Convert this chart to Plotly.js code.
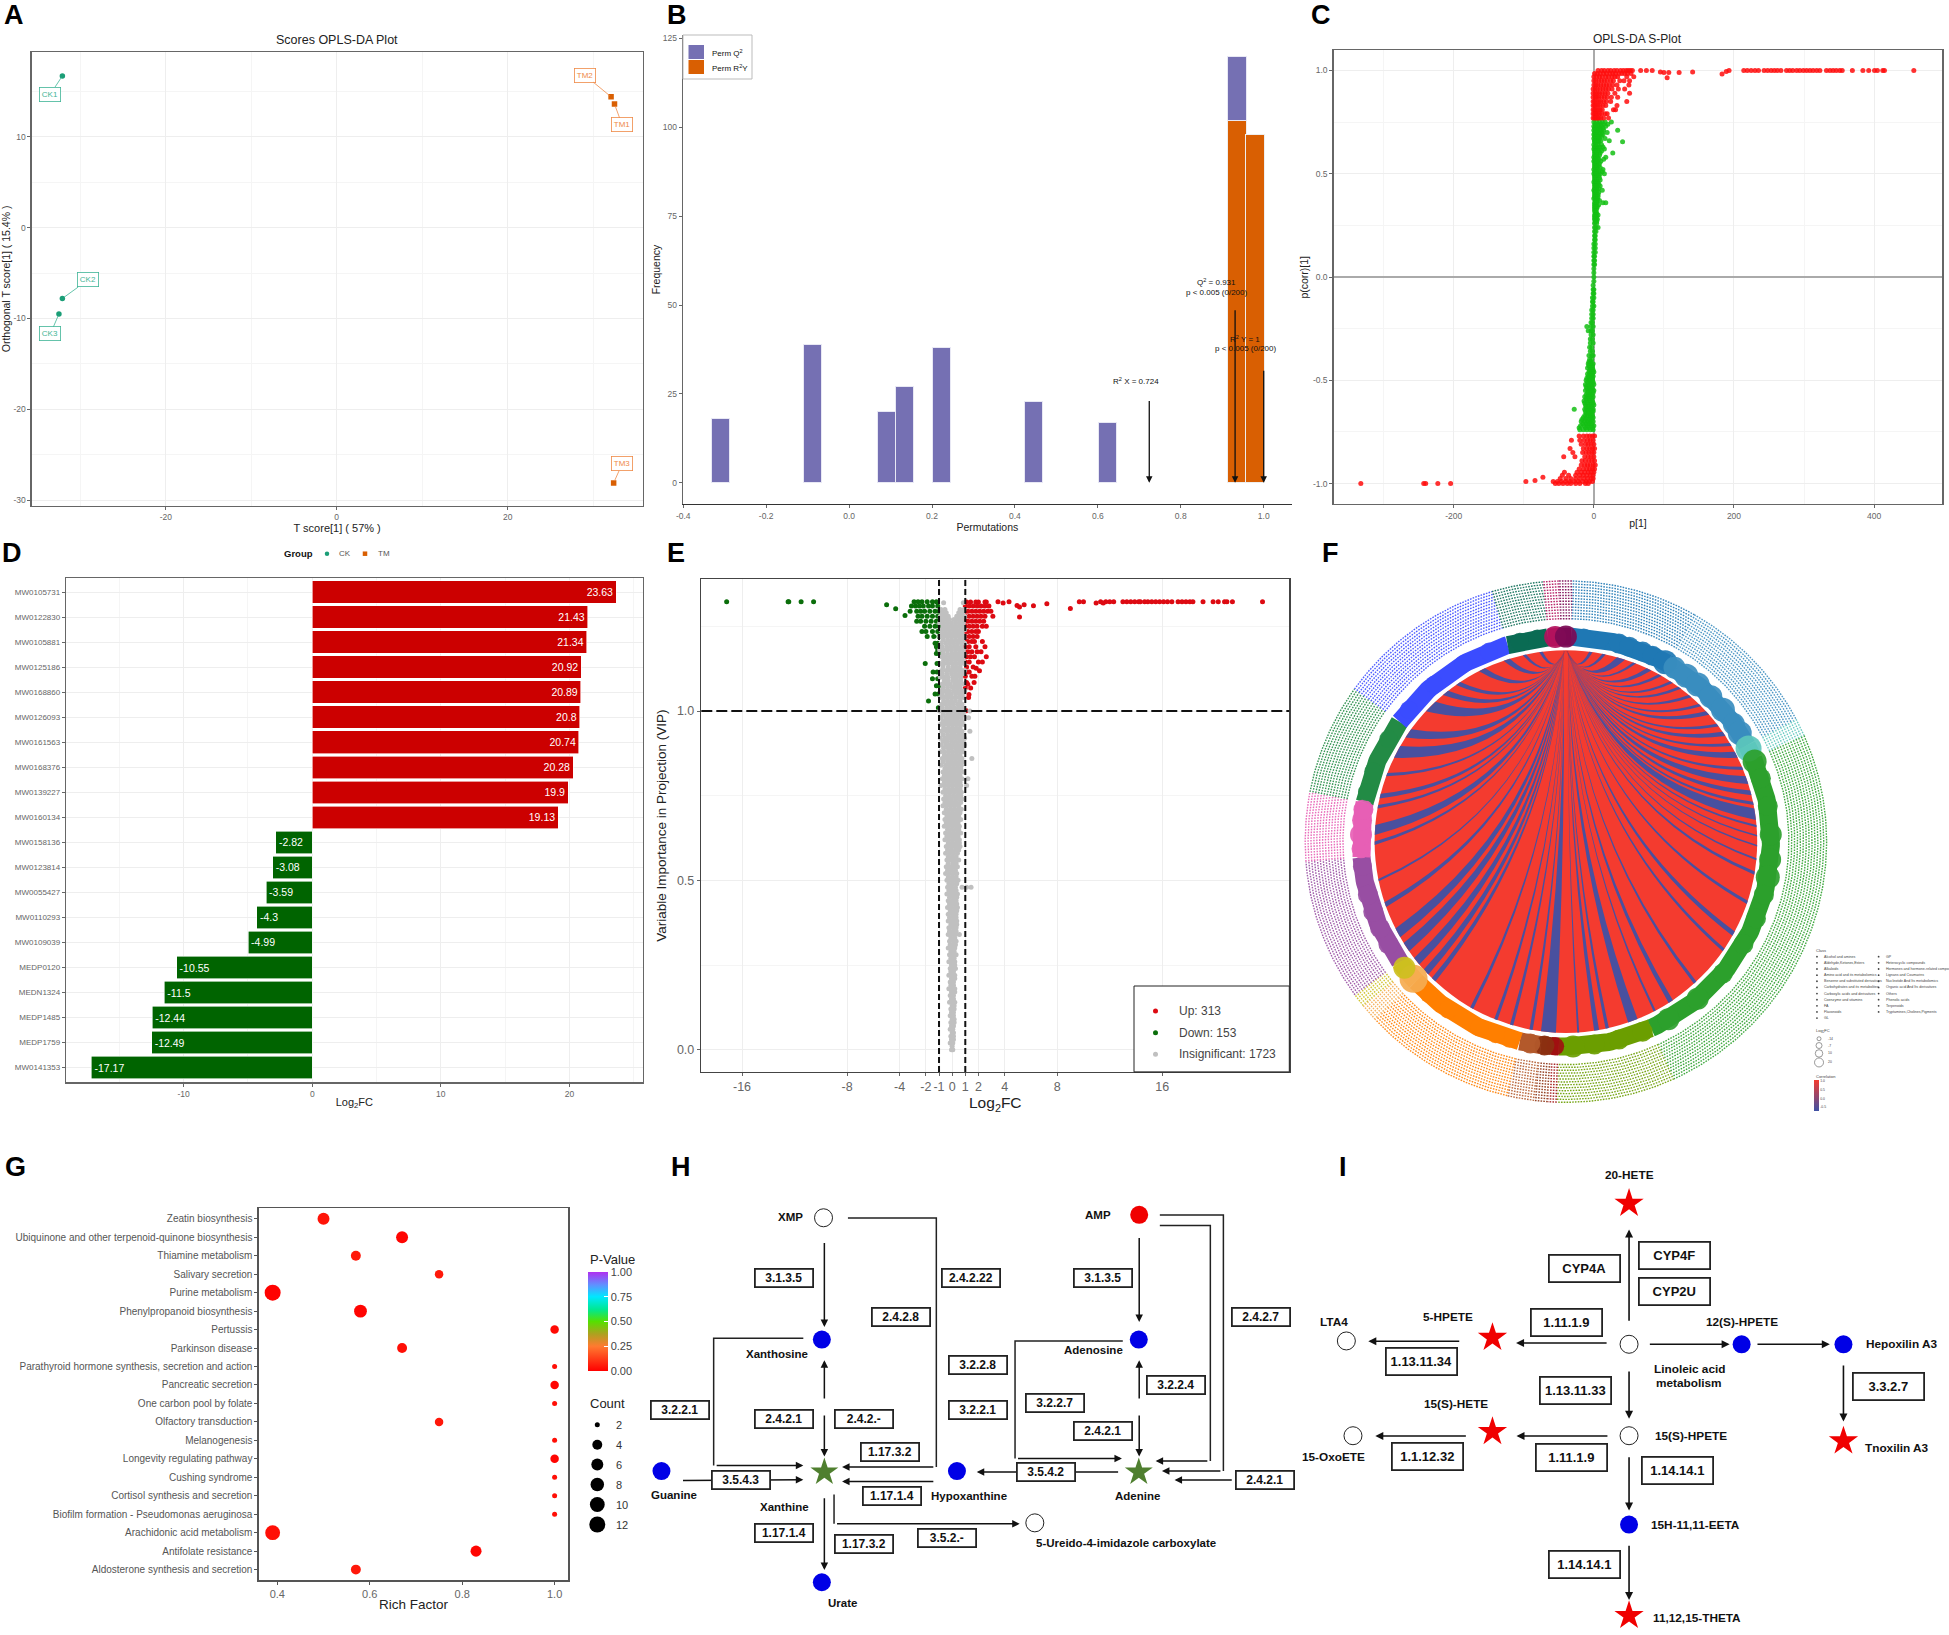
<!DOCTYPE html>
<html><head><meta charset="utf-8">
<script src="https://cdn.plot.ly/plotly-3.0.1.min.js"></script>
<style>html,body{margin:0;padding:0;background:#fff}</style></head><body><div id="chart" style="width:1949px;height:1635px"></div>
<script>
const W=1949,H=1635,FF='"Liberation Sans",Arial,sans-serif';
/* ---------- DATA ---------- */
// A
const aSamples=['CK1','CK2','CK3','TM1','TM2','TM3'];
const aT=[-32.1,-32.1,-32.5,32.5,32.1,32.4];
const aO=[16.7,-7.8,-9.5,13.6,14.4,-28.1];
const aLabelT=[-33.5,-29.1,-33.5,33.4,29,33.4];
const aLabelO=[14.7,-5.76,-11.7,11.3,16.8,-26];
// B
const bQ2x=[-0.31,-0.088,0.09,0.134,0.223,0.445,0.623,0.935];
const bQ2y=[18,39,20,27,38,23,17,18];
const bR2x=[0.935,0.979];
const bR2y=[102,98];
const bArrowX=[0.724,0.931,1.0];
const bArrowTop=[25.4,50.9,33.9];
// C rows: [p(corr), [p values]]
const cTop=[[1,[6,11,15,20,24,29,33,38,42,46,49,52,55]],[.985,[1,5,9,14,18,23,27,31,36,40,44,48,53]],[.97,[0,4,8,12,17,21,26,30,34,47,57]],[.95,[0,3,7,11,15,19,24,28,37,43,51]],[.93,[0,3,6,10,14,18,22,27,33,50]],[.91,[-1,2,5,9,13,17,21,26,35,44]],[.89,[-1,2,5,8,12,16,20,30,51]],[.87,[-1,2,4,7,11,15,19,25,34]],[.85,[-1,1,4,7,10,14,18,24,47]],[.83,[-1,1,3,6,9,13,17,33]],[.81,[-1,1,3,6,9,12,28,31]],[.79,[-1,1,3,5,8,11,16,19]],[.77,[-1,1,3,5,7,10,14,21]]];
const cBot=[[-.77,[-21,-15,-10,-6,-2,1]],[-.79,[-32,-20,-14,-9,-5,-1]],[-.81,[-18,-12,-8,-4,0]],[-.83,[-34,-15,-10,-6,-2,1]],[-.85,[-30,-16,-11,-7,-3,0]],[-.87,[-43,-27,-13,-8,-4,0]],[-.89,[-17,-12,-7,-3,1]],[-.91,[-18,-13,-9,-5,-1,2]],[-.93,[-21,-15,-10,-6,-2,1]],[-.945,[-42,-24,-18,-13,-8,-4,0]],[-.96,[-45,-36,-26,-20,-15,-10,-5,-1]],[-.975,[-48,-40,-33,-26,-20,-14,-9,-4,-1]],[-.99,[-58,-52,-46,-40,-34,-28,-22,-16,-11,-6,-2]],[-1,[-55,-50,-44,-38,-33,-26,-20,-12,-8]]];
const cOutX=[66.8,75,83.3,95,100,107,104.6,121.7,141,183,189,193,214,219,224.5,230,235,243,248,253,257.6,262,267,275,279.5,284,289.5,294,299,303.7,308.4,313,318,322.6,332,337,341.5,346,351,354.5,369,384,392.3,400.6,404.7,412.4,414.8,456.7,-332.6,-242.8,-240,-222.7,-204.4,-97,-84,-72.7];
const cOutY=[1,1,1,.993,.99,.99,.965,.99,.993,.983,.995,1,1,1,1,1,1,1,1,1,1,1,1,1,1,1,1,1,1,1,1,1,1,1,1,1,1,1,1,1,1,1,1,1,1,1,1,1,-1,-1,-1,-1,-1,-.99,-.985,-.97];
const cGreen=[[.75,[0,4,8,12,16,25]],[.74,[2,6,10,14,20]],[.73,[0,3,7,11,17]],[.72,[1,5,9,13]],[.71,[0,3,6,10,14,34]],[.70,[1,4,8,12,19]],[.69,[0,2,5,9,13]],[.68,[1,4,7,11]],[.67,[0,2,5,8,16]],[.66,[1,3,6,10,22]],[.655,[1,4,7,41]],[.64,[0,3,6,11]],[.63,[1,4,8,13]],[.62,[0,2,5,8,15]],[.61,[1,3,6,11]],[.60,[1,4,9,27]],[.59,[1,4,8]],[.58,[0,3,6,17]],[.57,[1,3,7,14]],[.56,[0,2,5,10]],[.55,[1,4,8]],[.54,[1,3,7]],[.53,[1,4,9]],[.52,[0,3,6,13]],[.51,[1,4,7,12]],[.50,[0,2,5,9,15]],[.49,[1,4,7]],[.48,[1,3,8]],[.47,[1,4,9]],[.46,[0,3,6]],[.45,[1,4,7]],[.44,[1,3,9]],[.43,[1,4,7]],[.42,[0,2,5,12]],[.41,[1,3,7]],[.40,[1,3,6]],[.39,[1,3,6]],[.38,[0,2,5]],[.37,[2,5,8]],[.36,[1,4,13,17]],[.35,[1,3,7]],[.34,[1,3,5]],[.33,[1,4]],[.32,[1,3]],[.31,[2,4]],[.30,[1,3,6]],[.29,[1,4]],[.28,[1,3,5]],[.27,[2,4]],[.26,[1,4]],[.24,[1,3,6]],[.22,[1,3]],[.20,[1,2]],[.18,[1,2]],[.16,[0,2]],[.14,[0,2]],[.12,[0,2]],[.10,[0,1]],[.08,[0,1]],[.06,[0,1]],[.04,[0]],[.02,[0]],[0,[0]],[-.02,[0]],[-.04,[-1]],[-.06,[-1,0]],[-.08,[-1,0]],[-.10,[-2,0]],[-.12,[-2,-1]],[-.14,[-2,0]],[-.16,[-3,-1]],[-.18,[-3,-1]],[-.20,[-3,-1]],[-.22,[-4,-2]],[-.24,[-4,-1,-10]],[-.26,[-4,-2,-8]],[-.28,[-4,-1]],[-.30,[-5,-2]],[-.32,[-5,-1]],[-.34,[-6,-3]],[-.36,[-5,-2]],[-.38,[-7,-3,-1]],[-.40,[-6,-3]],[-.41,[-7,-4]],[-.42,[-8,-4,-1]],[-.43,[-7,-2]],[-.44,[-9,-5,-2]],[-.45,[-6,-1]],[-.46,[-7,-3,0]],[-.47,[-9,-5,-2]],[-.48,[-8,-4,-1]],[-.49,[-10,-6,-2]],[-.50,[-11,-6,-2]],[-.51,[-9,-5,-1]],[-.52,[-12,-8,-4,0]],[-.53,[-11,-7,-3]],[-.54,[-10,-6,-2]],[-.55,[-12,-8,-4,0]],[-.56,[-9,-5,-1]],[-.57,[-11,-7,-3]],[-.58,[-13,-9,-5,-1]],[-.59,[-11,-7,-3]],[-.60,[-14,-10,-6,-2]],[-.61,[-13,-9,-4,-1]],[-.62,[-12,-8,-4,0]],[-.63,[-11,-7,-3]],[-.64,[-28,-13,-9,-5,-1]],[-.65,[-12,-8,-4,-1]],[-.66,[-11,-7,-3]],[-.67,[-13,-9,-5,-2]],[-.68,[-15,-10,-5,-1]],[-.69,[-17,-12,-7,-3]],[-.70,[-18,-13,-9,-5,-1]],[-.71,[-16,-11,-7,-3]],[-.72,[-19,-14,-9,-4,0]],[-.73,[-21,-12,-7,-2]],[-.74,[-20,-15,-10,-5,-1]]];
// D
const dIds=['MW0105731','MW0122830','MW0105881','MW0125186','MW0168860','MW0126093','MW0161563','MW0168376','MW0139227','MW0160134','MW0158136','MW0123814','MW0055427','MW0110293','MW0109039','MEDP0120','MEDN1324','MEDP1485','MEDP1759','MW0141353'];
const dVals=[23.63,21.43,21.34,20.92,20.89,20.8,20.74,20.28,19.9,19.13,-2.82,-3.08,-3.59,-4.3,-4.99,-10.55,-11.5,-12.44,-12.49,-17.17];
// E rows: [VIP,[Log2FC]]
const eRed=[[1.322,[1.1,1.4,1.8,2,2.5,2.6]],[1.31,[1,1.3,1.6,1.9,2.2,2.5,2.8]],[1.295,[1,1.2,1.5,1.8,2.1,2.4,2.7,2.95]],[1.28,[1,1.3,1.6,1.9,2.2,2.5,3.1]],[1.265,[1,1.2,1.5,1.8,2.1,2.4]],[1.25,[1,1.3,1.6,1.9,2.3,2.6]],[1.235,[1,1.2,1.5,1.8,2]],[1.22,[1,1.3,1.6,1.9]],[1.205,[1,1.2,1.5,1.7,2.3]],[1.19,[1,1.3,1.8,2.5]],[1.175,[1,1.2,1.5,1.9,2.2]],[1.16,[1.1,1.4,1.7,2.6]],[1.145,[1,1.3,2,2.3]],[1.13,[1.1,1.6]],[1.126,[1.83]],[1.119,[2.08]],[1.115,[1.1,1.3]],[1.103,[1.5,1.73,1]],[1.084,[1.67,1.1]],[1.079,[1.19]],[1.068,[1.41,1]],[1.049,[1.28]],[1.04,[1.25]],[1.001,[1.09]],
[1.323,[3.49,4.33,9.68,10,11.3,11.7,12,12.3,13,13.3,13.6,13.9,14.2,14.33,14.65,14.9,15.2,15.5,15.8,16.1,16.4,16.73,17.2,17.5,17.8,18.1,18.33,19.1,19.87,20.26,20.74,20.92,21.34,23.63]],[1.319,[3.88,10.96,11.5]],[1.312,[4.94]],[1.307,[5.13]],[1.314,[5.48]],[1.311,[6.19]],[1.317,[7.21]],[1.278,[5.13]],[1.303,[9]]];
const eGreen=[[1.323,[-17.17,-12.49,-12.44,-11.5,-10.55,-2.9,-2.6,-2.3,-1.9,-1.5,-1.2]],[1.314,[-4.99]],[1.302,[-4.3]],[1.282,[-3.59]],[1.31,[-3.1,-2.8,-2.5,-2.2,-1.8,-1.5,-1.1]],[1.295,[-3.2,-2.7,-2.4,-2.1,-1.7,-1.3,-1]],[1.28,[-2.6,-2.3,-1.9,-1.5,-1.1]],[1.265,[-2.7,-2.4,-2,-1.6,-1.2,-1]],[1.25,[-2.1,-1.7,-1.3,-1]],[1.235,[-2.3,-2,-1.5,-1.1]],[1.22,[-1.9,-1.4,-1]],[1.2,[-1.3,-1.1]],[1.19,[-1.2,-1]],[1.18,[-1.1,-.95]],[1.17,[-1.2,-1]],[1.14,[-2.05,-1.15]],[1.115,[-1.45,-1.15]],[1.095,[-1.5,-1.1]],[1.075,[-1.2,-1]],[1.05,[-1.3,-1.05]],[1.03,[-1.8]],[1.01,[-1.05]]];
const eGray=[[1.32,[-.65,.85]],[1.30,[-.85,-.55,.6,.9]],[1.28,[-.9,-.6,-.3,.35,.65,.95]],[1.26,[-.95,-.65,-.35,-.05,.25,.55,.85]],[1.24,[-.85,-.55,-.25,.05,.35,.65,.95]],[1.22,[-.95,-.6,-.3,0,.3,.6,.9]],[1.20,[-.85,-.5,-.2,.1,.4,.7,.95]],[1.18,[-.95,-.65,-.35,-.05,.25,.55,.85]],[1.16,[-.8,-.5,-.15,.15,.45,.75]],[1.14,[-.9,-.6,-.3,0,.3,.6,.9]],[1.12,[-.8,-.45,-.15,.15,.45,.75,.95]],[1.10,[-.9,-.6,-.3,.05,.35,.65]],[1.08,[-.75,-.45,-.15,.2,.5,.85]],[1.06,[-.85,-.55,-.25,.1,.4,.7,.95]],[1.04,[-.9,-.6,-.3,0,.3,.6,.85]],[1.02,[-.8,-.5,-.2,.1,.45,.75]],[1.00,[-.95,-.6,-.3,0,.3,.6,.9,1.35]],[.98,[-.85,-.5,-.2,.1,.4,.7,1.25]],[.96,[-.9,-.6,-.3,0,.3,.6,.85]],[.94,[-.8,-.45,-.15,.15,.45,.75,1.35]],[.92,[-.9,-.55,-.25,.05,.35,.65,.95]],[.90,[-.85,-.5,-.2,.1,.4,.7,.95]],[.88,[-.9,-.6,-.3,0,.3,.6,.85]],[.86,[-.75,-.45,-.15,.15,.45,.75,1.5]],[.84,[-.85,-.5,-.2,.1,.4,.7]],[.82,[-.7,-.4,-.1,.2,.5,.85]],[.80,[-.75,-.45,-.15,.15,.45,.75,1.2]],[.78,[-.85,-.55,-.25,.05,.35,.65,1.1]],[.76,[-.7,-.4,-.1,.2,.5,.7]],[.74,[-.65,-.35,-.05,.25,.55,.75]],[.72,[-.7,-.4,-.1,.2,.5]],[.70,[-.6,-.3,0,.3,.6]],[.68,[-.55,-.25,.05,.35,.65]],[.66,[-.6,-.3,0,.3,.55]],[.64,[-.5,-.2,.1,.4,.65]],[.62,[-.55,-.25,.05,.35,.55]],[.60,[-.45,-.15,.15,.45,.6]],[.58,[-.5,-.2,.1,.4]],[.56,[-.4,-.1,.2,.5]],[.54,[-.45,-.15,.15,.4]],[.52,[-.5,-.2,.1,.35]],[.50,[-.4,-.1,.2,.45]],[.48,[-.35,-.05,.25,.75,1.1,1.44]],[.46,[-.4,-.1,.2,.4]],[.44,[-.3,0,.3]],[.42,[-.35,-.05,.25,.4]],[.40,[-.3,0,.3]],[.38,[-.3,-.05,.2,.35]],[.36,[-.25,.05,.3]],[.34,[-.3,0,.25,.55]],[.32,[-.2,.1,.3]],[.30,[-.3,-.05,.2]],[.28,[-.2,.05,.3]],[.26,[-.25,0,.2]],[.24,[-.15,.1,.25]],[.22,[-.25,0,.2]],[.20,[-.15,.1]],[.18,[-.25,0,.2]],[.16,[-.15,.1]],[.14,[-.2,.05,.2]],[.12,[-.1,.15]],[.10,[-.15,.1]],[.08,[-.1,.15]],[.06,[-.15,.05]],[.04,[-.1,.1]],[.02,[-.15,.05]],[0,[-.05,.05]]];
const eGrayFill=[[1.29,[-.75,-.45,.5,.8]],[1.27,[-.8,-.5,-.2,.15,.45,.75]],[1.25,[-.7,-.4,-.1,.2,.5,.8]],[1.23,[-.75,-.45,-.15,.15,.45,.75]],[1.21,[-.7,-.35,-.05,.25,.55,.8]],[1.19,[-.75,-.4,-.1,.2,.4,.7]],[1.17,[-.7,-.35,0,.3,.6,.9]],[1.15,[-.65,-.35,-.05,.25,.55,.85]],[1.13,[-.7,-.3,.05,.3,.6]],[1.11,[-.75,-.4,-.05,.25,.55,.85]],[1.09,[-.6,-.3,.05,.35,.65]],[1.07,[-.7,-.35,0,.3,.6]],[1.05,[-.75,-.4,-.1,.25,.55,.8]],[1.03,[-.65,-.35,-.05,.25,.6]],[1.01,[-.75,-.4,-.1,.2,.5,.8]],[.99,[-.7,-.35,-.05,.25,.55,.85]],[.97,[-.7,-.4,-.1,.2,.45,.75]],[.95,[-.65,-.3,0,.3,.6]],[.93,[-.7,-.35,-.05,.2,.5,.8]],[.91,[-.7,-.4,-.05,.25,.55,.85]],[.89,[-.65,-.3,-.05,.25,.5,.75]],[.87,[-.6,-.3,0,.3,.6]],[.85,[-.7,-.35,-.05,.25,.55,.8]],[.83,[-.55,-.25,.05,.35,.65]],[.81,[-.6,-.3,0,.3,.6]],[.79,[-.6,-.3,0,.3,.6]],[.77,[-.55,-.25,.05,.35,.6]],[.75,[-.5,-.2,.1,.4,.65]],[.73,[-.55,-.25,.05,.35,.65]],[.71,[-.45,-.15,.15,.45,.7]],[.69,[-.4,-.1,.2,.5]],[.67,[-.45,-.15,.15,.45]],[.65,[-.35,-.05,.25,.5]],[.63,[-.4,-.1,.2,.45]],[.61,[-.3,0,.3,.55]],[.59,[-.35,-.05,.25,.5]],[.57,[-.3,0,.3]],[.55,[-.3,.05,.3]],[.53,[-.35,-.05,.25]],[.51,[-.3,0,.3]],[.49,[-.25,.05,.35]],[.47,[-.25,.05,.3]],[.45,[-.2,.1,.35]],[.43,[-.2,.1,.35]],[.41,[-.15,.15,.35]],[.39,[-.2,.1,.3]],[.37,[-.1,.15,.35]],[.35,[-.2,.1,.3]],[.33,[-.1,.2]],[.31,[-.15,.1,.25]],[.29,[-.1,.15]],[.27,[-.1,.15]],[.25,[-.05,.2]],[.23,[-.1,.1]],[.21,[-.05,.2]],[.19,[-.1,.1]],[.17,[-.05,.2]],[.15,[-.05,.1]],[.13,[0,.15]],[.11,[-.05,.1]],[.09,[0,.15]],[.07,[-.05,.1]],[.05,[0,.1]],[.03,[-.05,.1]],[.01,[0]]];
const eTicks=[-16,-8,-4,-2,-1,0,1,2,4,8,16];
const eLegend=['Up: 313','Down: 153','Insignificant: 1723'];
// F
const fClass=['Alcohol and amines','Aldehyde,Ketones,Esters','Alkaloids','Amino acid and its metabolomics','Benzene and substituted derivatives','Carbohydrates and its metabolites','Carboxylic acids and derivatives','Coenzyme and vitamins','FA','Flavonoids','GL','GP','Heterocyclic compounds','Hormones and hormone-related compounds','Lignans and Coumarins','Nucleotide And Its metabolomics','Organic acid And Its derivatives','Others','Phenolic acids','Terpenoids','Tryptamines,Cholines,Pigments'];
const fStart=[1.5,29.5,62,66,155.5,182,184,187,193,227,231,234,265.6,281,305.8,343.5,355,358.5];
const fEnd=[29.5,62,66,155.5,182,184,187,193,227,231,234,265.6,281,305.8,343.5,355,358.5,361.5];
const fColor=['#1f78b4','#3a8dbf','#5cc7bc','#2ca02c','#6b9e00','#a01010','#8b3010','#b3592b','#ff7f00','#f5ab50','#cdbf20','#984ea3','#e75fb5','#238b45','#3b4cff','#0b6b54','#b3125d','#7b0a55','#666','#666','#666'];
const fBlue=[[15.5,18],[20.5,21.5],[25,26.5],[29,30],[33,34],[36,37],[40,41],[44,45],[47,48.5],[52,53],[55,56.5],[59,60],[62,64],[67,68],[70,72.5],[74.5,76],[78,79],[80,83.5],[85,85.7],[88,88.5],[91,91.5],[95,95.6],[99,100],[108,109],[118,119.5],[124,125],[137,138],[146,147.5],[152,152.7],[158,161],[167,168],[170,171.5],[176,176.6],[183,187.5],[190,191],[196,197],[201,202],[209,210],[223,224.5],[226,228],[230,232.5],[235,238],[240,243],[250,251.5],[258,258.7],[269,270],[272,275],[280,281],[283,284.5],[290,291],[296,300],[303,306],[313,317],[320,322],[325,326.5],[333,335],[341,343],[347,348],[352,353],[7,8],[11,12]];
const fBumps=[[5,18],[10,15],[15,20],[18,20],[22,20],[25,20],[29,24],[32,22],[36,24],[40,24],[45,23],[50,24],[55,22],[58,24],[63,26],[67,24],[72,20],[80,20],[88,22],[95,22],[100,24],[105,20],[112,20],[120,20],[130,20],[140,22],[150,22],[158,20],[165,20],[172,20],[178,22],[183,18],[186,20],[190,20],[196,18],[200,18],[205,18],[215,18],[222,18],[228,28],[232,22],[240,20],[245,20],[250,20],[255,20],[263,19],[268,19],[272,22],[276,20],[279,20],[284,18],[290,18],[300,18],[310,18],[320,18],[330,18],[338,18],[347,18],[352,18],[357,22],[0,22]];
const fFcSizes=['-14','-7','10','20'];
const fCorrTicks=[1,.5,0,-.5];
// G
const gPath=['Zeatin biosynthesis','Ubiquinone and other terpenoid-quinone biosynthesis','Thiamine metabolism','Salivary secretion','Purine metabolism','Phenylpropanoid biosynthesis','Pertussis','Parkinson disease','Parathyroid hormone synthesis, secretion and action','Pancreatic secretion','One carbon pool by folate','Olfactory transduction','Melanogenesis','Longevity regulating pathway','Cushing syndrome','Cortisol synthesis and secretion','Biofilm formation - Pseudomonas aeruginosa','Arachidonic acid metabolism','Antifolate resistance','Aldosterone synthesis and secretion'];
const gRich=[.5,.67,.57,.75,.39,.58,1,.67,1,1,1,.75,1,1,1,1,1,.39,.83,.57];
const gCount=[6,6,4,3,12,7,3,4,2,3,2,3,2,3,2,2,2,10,5,4];
const gP=[.04,.01,.05,.05,.005,.01,.02,.03,.03,.01,.03,.05,.03,.01,.03,.03,.03,.03,.01,.05];
const gCountLegend=[2,4,6,8,10,12];
// H (positions in the panel's own diagram axes)
const hBlue=[[432,598],[1185,598],[51,992],[753,992],[432,1325]];
const hWhite=[[436,233],[938,1147]];
const hRed=[[1186,224]];
const hStar=[[438,995],[1185,995]];
const hLabels=[['XMP',358,232],['AMP',1089,224],['Xanthosine',326,640],['Adenosine',1077,630],['Guanine',81,1063],['Hypoxanthine',781,1067],['Adenine',1181,1066],['Xanthine',344,1101],['Urate',482,1388],['5-Ureido-4-imidazole carboxylate',1155,1206]];
const hBoxes=[['3.1.3.5',343,414],['2.4.2.22',786,414],['2.4.2.8',620,531],['3.1.3.5',1100,414],['2.4.2.7',1476,531],['3.2.2.8',803,675],['3.2.2.4',1273,733],['3.2.2.7',986,789],['3.2.2.1',95,810],['3.2.2.1',803,810],['2.4.2.1',343,837],['2.4.2.-',532,837],['2.4.2.1',1100,873],['1.17.3.2',595,935],['3.5.4.2',964,995],['3.5.4.3',240,1019],['2.4.2.1',1485,1018],['1.17.1.4',598,1068],['1.17.1.4',343,1176],['1.17.3.2',532,1209],['3.5.2.-',729,1193]];
const hEdges=[[[438,283],[438,560]],[[494,234],[704,234],[704,980],[480,980]],[[388,594],[175,594],[175,975],[388,975]],[[438,800],[438,660]],[[438,800],[438,948]],[[95,1020],[388,1018]],[[704,1023],[480,1023]],[[438,1048],[438,1288]],[[461,1062],[461,1150],[902,1150]],[[1186,268],[1186,545]],[[1235,225],[1386,225],[1386,992],[1240,992]],[[1235,256],[1355,256],[1355,962],[1225,962]],[[1147,602],[891,602],[891,954],[1145,954]],[[1186,800],[1186,660]],[[1186,800],[1186,948]],[[1143,995],[800,995]],[[1413,1019],[1270,1019]]];
// I
const iBlue=[[1067,612],[1313,612],[795,1152]];
const iWhite=[[795,612],[795,886],[112,602],[128,886]];
const iStar=[[795,190],[465,592],[465,874],[1313,902],[795,1425]];
const iLabels=[['20-HETE',795,105],['5-HPETE',358,531],['LTA4',83,545],['12(S)-HPETE',1068,545],['Hepoxilin A3',1453,612],['Linoleic acid',941,686],['metabolism',941,728],['15(S)-HETE',377,791],['15(S)-HPETE',945,886],['15-OxoETE',82,950],['Tnoxilin A3',1443,923],['15H-11,11-EETA',955,1152],['11,12,15-THETA',958,1432]];
const iBoxes=[['CYP4F',904,345],['CYP4A',687,385],['CYP2U',904,453],['1.11.1.9',645,547],['1.13.11.34',293,665],['1.13.11.33',666,749],['3.3.2.7',1422,737],['1.1.12.32',309,949],['1.11.1.9',655,951],['1.14.14.1',913,991],['1.14.14.1',687,1273]];
const iEdges=[[[795,567],[795,268]],[[748,608],[522,608]],[[392,603],[165,603]],[[838,612],[1038,612]],[[1098,612],[1280,612]],[[1313,650],[1313,843]],[[795,668],[795,835]],[[750,887],[523,887]],[[408,887],[182,887]],[[795,925],[795,1110]],[[795,1190],[795,1378]]];

/* ---------- HELPERS ---------- */
const layout={width:W,height:H,margin:{l:0,r:0,t:0,b:0},paper_bgcolor:'#fff',plot_bgcolor:'rgba(0,0,0,0)',showlegend:false,font:{family:FF},barmode:'stack',hovermode:false,shapes:[],annotations:[]};
const traces=[];
const flat=rows=>{const x=[],y=[];rows.forEach(r=>r[1].forEach(v=>{x.push(v);y.push(r[0]);}));return{x,y};};
const tickFont={size:8.5,color:'#666',family:FF};
const axBase={showline:true,mirror:true,linecolor:'#666',linewidth:1.2,ticks:'outside',ticklen:3,tickcolor:'#666',tickfont:tickFont,tickangle:0,gridcolor:'#eee',zeroline:false,layer:'below traces'};
function axes(n,L,R,T,B,xo,yo){
  layout['xaxis'+n]=Object.assign({},axBase,{domain:[L/W,R/W],anchor:'y'+n},xo);
  layout['yaxis'+n]=Object.assign({},axBase,{domain:[1-B/H,1-T/H],anchor:'x'+n},yo);
}
const ttl=(t,s,st)=>({text:t,font:{size:s||11,color:'#222',family:FF},standoff:st===undefined?2:st});
const minor=(d)=>({dtick:d,showgrid:true,gridcolor:'#f5f5f5',ticks:''});
const tv=a=>({tickmode:'array',tickvals:a,ticktext:a.map(String)});
const tvf=(a,f)=>({tickmode:'array',tickvals:a,ticktext:a.map(v=>v.toFixed(f))});
function note(xr,yr,x,y,text,size,extra){layout.annotations.push(Object.assign({xref:xr,yref:yr,x,y,text,showarrow:false,font:{size:size,family:FF,color:'#111'}},extra||{}));}
const cn=(x,y,t,s,e)=>note('x10','y10',x,y,t,s,e);
function rectC(x0,y0,x1,y1,stroke,fill,layer,lw){layout.shapes.push({type:'rect',xref:'x10',yref:'y10',x0,y0,x1,y1,line:{color:stroke,width:lw===undefined?1:lw},fillcolor:fill,layer:layer||'above'});}
function circC(x,y,d,fill){layout.shapes.push({type:'circle',xref:'x10',yref:'y10',x0:x-d/2,x1:x+d/2,y0:y-d/2,y1:y+d/2,line:{width:0},fillcolor:fill,layer:'above'});}

/* canvas axes covering the whole page, one unit per pixel */
layout.xaxis10={domain:[0,1],range:[0,W],visible:false,fixedrange:true,anchor:'y10'};
layout.yaxis10={domain:[0,1],range:[H,0],visible:false,fixedrange:true,anchor:'x10'};

/* ---------- A ---------- */
axes('',31.6,642.7,52.3,505.6,
 Object.assign({range:[-35.7,35.8],minor:minor(10),title:ttl('T score[1] ( 57% )',11,0)},tv([-20,0,20])),
 Object.assign({range:[-30.6,19.3],minor:minor(5),title:ttl('Orthogonal T score[1] ( 15.4% )',10.5,2)},tv([-30,-20,-10,0,10])));
traces.push({type:'scatter',mode:'markers',x:aT.slice(0,3),y:aO.slice(0,3),xaxis:'x',yaxis:'y',name:'CK',marker:{size:5.5,color:'#1b9e77',symbol:'circle'}});
traces.push({type:'scatter',mode:'markers',x:aT.slice(3),y:aO.slice(3),xaxis:'x',yaxis:'y',name:'TM',marker:{size:5.5,color:'#d95f02',symbol:'square'}});
aSamples.forEach((s,i)=>{const c=i<3?'#3fb596':'#ef8a47';
 layout.annotations.push({xref:'x',yref:'y',x:aT[i],y:aO[i],ax:aLabelT[i],ay:aLabelO[i],axref:'x',ayref:'y',text:s,showarrow:true,arrowhead:0,arrowwidth:.8,arrowcolor:c,standoff:2,bgcolor:'#fff',bordercolor:c,borderwidth:.8,borderpad:2,font:{size:8,color:c,family:FF}});});
cn(336.7,39.6,'Scores OPLS-DA Plot',12.5,{font:{size:12.5,color:'#222',family:FF}});

/* ---------- B ---------- */
axes(2,682.8,1291.9,34.8,504.2,
 Object.assign({range:[-.401,1.068],mirror:false,showgrid:false,linecolor:'#333',title:ttl('Permutations',10.5,0)},tvf([-.4,-.2,0,.2,.4,.6,.8,1],1)),
 Object.assign({range:[-6,126],mirror:false,showgrid:false,linecolor:'#666',title:ttl('Frequency',10.5,0)},tv([0,25,50,75,100,125])));
traces.push({type:'bar',x:bR2x,y:bR2y,width:.0446,xaxis:'x2',yaxis:'y2',name:'Perm R2Y',marker:{color:'#d95f02',line:{color:'#eee',width:1}}});
traces.push({type:'bar',x:bQ2x,y:bQ2y,width:.0446,xaxis:'x2',yaxis:'y2',name:'Perm Q2',marker:{color:'#7570b3',line:{color:'#e8e8f4',width:1}}});
bArrowX.forEach((v,i)=>layout.annotations.push({xref:'x2',yref:'y2',axref:'x2',ayref:'y2',x:v,y:0,ax:v,ay:bArrowTop[i],showarrow:true,arrowhead:2,arrowsize:1,arrowwidth:1.3,arrowcolor:'#111'}));
const f8={font:{size:8,color:'#111',family:FF}};
note('x2','y2',.691,28.7,'R<sup>2</sup> X = 0.724',8,f8);
note('x2','y2',.885,56.4,'Q<sup>2</sup> = 0.931',8,f8);
note('x2','y2',.885,53.5,'p &lt; 0.005 (0/200)',8,f8);
note('x2','y2',.955,40.5,'R<sup>2</sup> Y = 1',8,f8);
note('x2','y2',.955,37.7,'p &lt; 0.005 (0/200)',8,f8);
rectC(683,35,752,79,'#bbb','#fff');
rectC(688.5,45,704,59,'#fff','#7570b3','above',0);
rectC(688.5,60,704,74,'#fff','#d95f02','above',0);
cn(710,52.5,'Perm Q<sup>2</sup>',8,{xanchor:'left'});
cn(710,68,'Perm R<sup>2</sup>Y',8,{xanchor:'left'});

/* ---------- C ---------- */
axes(3,1333.5,1942.4,50.3,504.2,
 Object.assign({range:[-371.6,497.5],minor:minor(100),zeroline:true,zerolinecolor:'#aaa',zerolinewidth:2,title:ttl('p[1]',10.5,0)},tv([-200,0,200,400])),
 Object.assign({range:[-1.1,1.0976],minor:minor(.25),zeroline:true,zerolinecolor:'#aaa',zerolinewidth:2,title:ttl('p(corr)[1]',10.5,2)},tvf([-1,-.5,0,.5,1],1)));
const cg=flat(cGreen);const cr=flat(cTop.concat(cBot));
traces.push({type:'scatter',mode:'markers',x:cg.x,y:cg.y,xaxis:'x3',yaxis:'y3',name:'VIP<1',marker:{size:5,color:'#14c014',opacity:.85}});
traces.push({type:'scatter',mode:'markers',x:cr.x.concat(cOutX),y:cr.y.concat(cOutY),xaxis:'x3',yaxis:'y3',name:'VIP>1',marker:{size:5,color:'#ff0d0d',opacity:.85}});
cn(1637.5,39,'OPLS-DA S-Plot',12,{font:{size:12,color:'#222',family:FF}});

/* ---------- D ---------- */
axes(4,66,642.7,577.8,1082.4,
 Object.assign({range:[-19.15,25.7],minor:minor(5),title:ttl('Log<sub>2</sub>FC',11,0)},tv([-10,0,10,20])),
 {type:'category',categoryorder:'array',categoryarray:dIds,range:[19.59,-.57],dtick:1,tickfont:{size:8,color:'#666',family:FF},showgrid:true});
traces.push({type:'bar',orientation:'h',x:dVals,y:dIds,xaxis:'x4',yaxis:'y4',width:.9,text:dVals.map(String),textposition:'inside',insidetextanchor:'end',textangle:0,constraintext:'none',textfont:{size:10.5,color:'#fff',family:FF},marker:{color:dVals.map(v=>v>0?'#cc0000':'#006400'),line:{color:'#fff',width:.6}}});
cn(298,553.7,'<b>Group</b>',9.5);
cn(345,553.7,'CK',8,{font:{size:8,color:'#555',family:FF}});cn(384,553.7,'TM',8,{font:{size:8,color:'#555',family:FF}});
traces.push({type:'scatter',mode:'markers',x:[327],y:[553.7],xaxis:'x10',yaxis:'y10',name:'CK key',marker:{size:4.5,color:'#1b9e77'}});
traces.push({type:'scatter',mode:'markers',x:[365],y:[553.7],xaxis:'x10',yaxis:'y10',name:'TM key',marker:{size:4.5,color:'#d95f02',symbol:'square'}});

/* ---------- E ---------- */
axes(5,701.3,1289.3,579.3,1071.9,
 Object.assign({range:[-19.1,25.67],linecolor:'#444',linewidth:1.5,tickfont:{size:12.5,color:'#666',family:FF},ticklen:3,title:ttl('Log<sub>2</sub>FC',15.5,0)},tv(eTicks)),
 Object.assign({range:[-.0656,1.389],linecolor:'#444',linewidth:1.5,minor:minor(.25),tickfont:{size:12.5,color:'#666',family:FF},ticklen:3,title:ttl('Variable Importance in Projection (VIP)',13.5,7)},tvf([0,.5,1],1)));
const eg=flat(eGray.concat(eGrayFill)),er=flat(eRed),eb=flat(eGreen);
traces.push({type:'scatter',mode:'markers',x:eb.x,y:eb.y,xaxis:'x5',yaxis:'y5',name:'Down',marker:{size:5,color:'#0b6e0b'}});
traces.push({type:'scatter',mode:'markers',x:er.x,y:er.y,xaxis:'x5',yaxis:'y5',name:'Up',marker:{size:5,color:'#dd0a12'}});
traces.push({type:'scatter',mode:'markers',x:eg.x,y:eg.y,xaxis:'x5',yaxis:'y5',name:'Insignificant',marker:{size:5,color:'#c0c0c0'}});
[-1,1].forEach(v=>layout.shapes.push({type:'line',xref:'x5',yref:'y5 domain',x0:v,x1:v,y0:0,y1:1,line:{color:'#111',width:2,dash:'6px,3px'}}));
layout.shapes.push({type:'line',xref:'x5 domain',yref:'y5',x0:0,x1:1,y0:1,y1:1,line:{color:'#111',width:2,dash:'11px,4px'}});
rectC(1134,986,1289.3,1071.9,'#222','#fff','above',1);
[['#dd0a12',1010.9],['#0b6e0b',1032.7],['#c0c0c0',1054.2]].forEach(a=>circC(1155.5,a[1],5,a[0]));
eLegend.forEach((t,i)=>cn(1177,[1010.9,1032.7,1054.2][i],t,12,{xanchor:'left',font:{size:12,color:'#444',family:FF}}));

/* ---------- F ---------- */
const fcx=1565.9,fcy=841.6,fr=191.3;
const polar=(deg,r)=>[fcx+r*Math.sin(deg*Math.PI/180),fcy-r*Math.cos(deg*Math.PI/180)];
layout.shapes.push({type:'circle',xref:'x10',yref:'y10',x0:fcx-fr,x1:fcx+fr,y0:fcy-fr,y1:fcy+fr,fillcolor:'#f43b2f',line:{width:0},layer:'below'});
function chordPath(a,b){
  const sep=x=>{const s=x>180?360-x:x;return s;};
  const ctrl=(x)=>{const s=sep(x),rho=Math.cos(s/2*Math.PI/180)*Math.max(0,.9-s/200),mid=x>180?360-s/2:s/2;return polar(mid,fr*rho);};
  const hub=x=>polar(x>180?-(360-x)*.004:x*.004,fr);
  const p1=polar(a,fr),p2=polar(b,fr),c1=ctrl(a),c2=ctrl(b),h1=hub(a),h2=hub(b);
  return `M ${p1[0]} ${p1[1]} Q ${c1[0]} ${c1[1]} ${h1[0]} ${h1[1]} L ${h2[0]} ${h2[1]} Q ${c2[0]} ${c2[1]} ${p2[0]} ${p2[1]} Z`;
}
fBlue.forEach(b=>layout.shapes.push({type:'path',xref:'x10',yref:'y10',path:chordPath(b[0],b[1]),fillcolor:'#3f51a5',line:{width:0},opacity:.95,layer:'below'}));
function arc(a0,a1,rs){const x=[],y=[];rs.forEach(r=>{for(let a=a0;a<a1;a+=.7){const p=polar(a,r);x.push(p[0]);y.push(p[1]);}const p=polar(a1,r);x.push(p[0],null);y.push(p[1],null);});return{x,y};}
const outerR=[];for(let r=223;r<=263;r+=2.9)outerR.push(r);
fStart.forEach((s,i)=>{const o=arc(s,fEnd[i],outerR);
 traces.push({type:'scatter',mode:'lines',x:o.x,y:o.y,xaxis:'x10',yaxis:'y10',name:fClass[i]+' labels',line:{color:fColor[i],width:1.4,dash:'1.6px,1.2px'},opacity:.9});});
fStart.forEach((s,i)=>{const o=arc(s,fEnd[i],[205]);
 traces.push({type:'scatter',mode:'lines',x:o.x,y:o.y,xaxis:'x10',yaxis:'y10',name:fClass[i],line:{color:fColor[i],width:18},opacity:1});});
const bump=fBumps.map(b=>{const p=polar(b[0],205),a=(b[0]<1.5?b[0]+360:b[0]);const k=fStart.findIndex((s,i)=>a>=s&&a<fEnd[i]);return{x:p[0],y:p[1],s:b[1],c:fColor[k<0?17:k]};});
traces.push({type:'scatter',mode:'markers',x:bump.map(b=>b.x),y:bump.map(b=>b.y),xaxis:'x10',yaxis:'y10',name:'metabolite dots',marker:{size:bump.map(b=>b.s),color:bump.map(b=>b.c),opacity:.92,line:{width:0}}});
// F legend
const fx=z=>1300+z*.4139, fy=z=>530+z*.3763;
const tiny={size:3.6,color:'#444',family:FF};
cn(fx(1243),fy(1117),'Class',4,{xanchor:'left',font:{size:4,color:'#444',family:FF}});
const lgX=[],lgY=[];
fClass.forEach((c,i)=>{const col=i<11?0:1,row=col?i-11:i,dx=col?1398:1249,ty=1134+row*16.3;
 lgX.push(fx(dx));lgY.push(fy(ty));
 cn(fx(dx+13),fy(ty),c,3.6,{xanchor:'left',font:tiny});});
traces.push({type:'scatter',mode:'markers',x:lgX,y:lgY,xaxis:'x10',yaxis:'y10',name:'class key',marker:{size:1.8,color:'#444'}});
cn(fx(1243),fy(1332),'Log<sub>2</sub>FC',4,{xanchor:'left',font:{size:4,color:'#444',family:FF}});
traces.push({type:'scatter',mode:'markers',x:[1254,1254,1254,1254].map(fx),y:[1352,1370,1391,1415].map(fy),xaxis:'x10',yaxis:'y10',name:'FC key',marker:{size:[4,6,7.5,9],opacity:1,color:'#fff',line:{color:'#555',width:.6}}});
fFcSizes.forEach((t,i)=>cn(fx(1272),fy([1352,1370,1391,1415][i]),t,3.4,{xanchor:'left',font:{size:3.4,color:'#444',family:FF}}));
cn(fx(1243),fy(1452),'Correlation',4,{xanchor:'left',font:{size:4,color:'#444',family:FF}});
traces.push({type:'scatter',mode:'markers',x:[-50],y:[-50],xaxis:'x10',yaxis:'y10',name:'Correlation',marker:{size:1,color:[0],cmin:-.75,cmax:1.05,colorscale:[[0,'#3f51a5'],[1,'#f43b2f']],showscale:true,colorbar:{x:fx(1243)/W,xanchor:'left',y:1-fy(1545)/H,yanchor:'bottom',len:fy(1545)-fy(1463),lenmode:'pixels',thickness:5.4,thicknessmode:'pixels',outlinewidth:0,xpad:0,ypad:0,tickmode:'array',tickvals:fCorrTicks,ticktext:fCorrTicks.map(v=>v.toFixed(1)),ticks:'',tickfont:{size:3.4,color:'#444',family:FF}}}});

/* ---------- G ---------- */
const sizeFor=c=>5+11*Math.sqrt((c-2)/10);
axes(6,258.6,568.3,1207.8,1580.3,
 Object.assign({range:[.3596,1.0296],showgrid:false,linecolor:'#555',tickcolor:'#555',tickfont:{size:11,color:'#666',family:FF},title:ttl('Rich Factor',13.5,0)},tvf([.4,.6,.8,1],1)),
 {type:'category',categoryorder:'array',categoryarray:gPath,range:[19.58,-.597],dtick:1,showgrid:false,linecolor:'#555',tickcolor:'#555',ticklen:3,tickfont:{size:10,color:'#555',family:FF}});
const pScale=[[0,'#ff0000'],[.25,'#ff7a30'],[.37,'#b0a020'],[.5,'#55e000'],[.62,'#00e890'],[.75,'#00e8ff'],[.87,'#6090ff'],[1,'#b030f0']];
const gTicks=[0,.25,.5,.75,1];
traces.push({type:'scatter',mode:'markers',x:gRich,y:gPath,xaxis:'x6',yaxis:'y6',name:'Pathways',marker:{size:gCount.map(sizeFor),opacity:1,color:gP,cmin:0,cmax:1,colorscale:pScale,line:{width:0},showscale:true,colorbar:{x:587.8/W,xanchor:'left',y:1-1371/H,yanchor:'bottom',len:99,lenmode:'pixels',thickness:20,thicknessmode:'pixels',outlinewidth:0,xpad:0,ypad:0,tickmode:'array',tickvals:gTicks,ticktext:gTicks.map(v=>v.toFixed(2)),ticks:'inside',tickcolor:'#fff',ticklen:4,tickfont:{size:11,color:'#444',family:FF}}}});
cn(588,1259.5,'P-Value',13,{xanchor:'left',font:{size:13,color:'#222',family:FF}});
cn(588,1403,'Count',13,{xanchor:'left',font:{size:13,color:'#222',family:FF}});
const gLy=[1424.7,1444.8,1464.5,1484.5,1504.5,1524.5];
traces.push({type:'scatter',mode:'markers',x:gLy.map(()=>597.3),y:gLy,xaxis:'x10',yaxis:'y10',name:'Count key',marker:{size:gCountLegend.map(sizeFor),opacity:1,color:'#000',line:{width:0}}});
gCountLegend.forEach((c,i)=>cn(613.5,gLy[i],String(c),11,{xanchor:'left',font:{size:11,color:'#333',family:FF}}));

/* ---------- H, I diagrams ---------- */
function diagram(n,L,R,nodes,labels,boxes,edges,boxW,boxH,labSize,boxSize,lw){
  layout['xaxis'+n]={domain:[L/W,R/W],range:[0,1568],visible:false,fixedrange:true,anchor:'y'+n};
  layout['yaxis'+n]={domain:[0,(H-1140)/H],range:[1483,0],visible:false,fixedrange:true,anchor:'x'+n};
  const xs=[],ys=[];
  edges.forEach(e=>{if(e.length>2){for(let i=0;i<e.length-1;i++){xs.push(e[i][0]);ys.push(e[i][1]);}xs.push(null);ys.push(null);}});
  traces.push({type:'scatter',mode:'lines',x:xs,y:ys,xaxis:'x'+n,yaxis:'y'+n,name:'routes',line:{color:'#222',width:lw}});
  nodes.forEach(g=>traces.push({type:'scatter',mode:'markers',x:g.pts.map(p=>p[0]),y:g.pts.map(p=>p[1]),xaxis:'x'+n,yaxis:'y'+n,name:g.name,marker:{size:g.size,symbol:g.sym,color:g.color,line:{color:g.stroke||g.color,width:g.stroke?1:0}}}));
  edges.forEach(e=>{const a=e[e.length-2],b=e[e.length-1];
    layout.annotations.push({xref:'x'+n,yref:'y'+n,axref:'x'+n,ayref:'y'+n,x:b[0],y:b[1],ax:a[0],ay:a[1],showarrow:true,arrowhead:2,arrowsize:1,arrowwidth:lw,arrowcolor:'#111'});});
  boxes.forEach(b=>note('x'+n,'y'+n,b[1],b[2],'<b>'+b[0]+'</b>',boxSize,{width:boxW,height:boxH,bordercolor:'#222',borderwidth:1.8,borderpad:0,bgcolor:'#fff',valign:'middle',align:'center',font:{size:boxSize,color:'#111',family:FF}}));
  labels.forEach(l=>note('x'+n,'y'+n,l[1],l[2],'<b>'+l[0]+'</b>',labSize));
}
diagram(11,640,1300,[{name:'detected down',pts:hBlue,size:18,sym:'circle',color:'#0000e6'},{name:'not detected',pts:hWhite,size:18,sym:'circle',color:'#fff',stroke:'#222'},{name:'detected up',pts:hRed,size:18,sym:'circle',color:'#f00000'},{name:'key metabolite',pts:hStar,size:21,sym:'star',color:'#4f7f2f'}],hLabels,hBoxes,hEdges,56,16,11.5,12,1.5);
diagram(12,1300,1949,[{name:'detected down',pts:iBlue,size:18,sym:'circle',color:'#0000e6'},{name:'not detected',pts:iWhite,size:18,sym:'circle',color:'#fff',stroke:'#222'},{name:'key metabolite',pts:iStar,size:22,sym:'star',color:'#f00000'}],iLabels,iBoxes,iEdges,69,25,11.8,13,1.6);

/* panel letters */
[['A',14,14.5],['B',677,14.5],['C',1321,14.5],['D',11.5,552.6],['E',676,552.6],['F',1330,552.6],['G',15,1167],['H',681,1167],['I',1342.6,1167]].forEach(p=>cn(p[1],p[2],'<b>'+p[0]+'</b>',27,{font:{size:27,color:'#000',family:FF}}));

Plotly.newPlot('chart',traces,layout,{displayModeBar:false,staticPlot:true});
</script></body></html>
